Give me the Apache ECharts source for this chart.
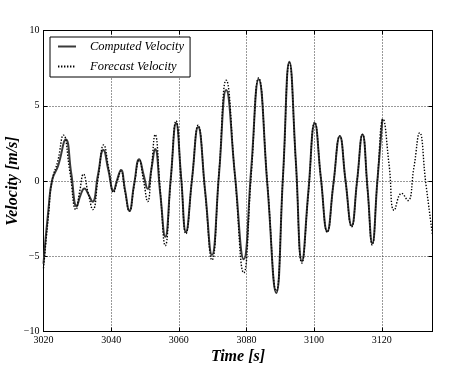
<!DOCTYPE html>
<html>
<head>
<meta charset="utf-8">
<script src="https://cdn.jsdelivr.net/npm/echarts@6/dist/echarts.min.js"></script>
<style>
  html, body { margin: 0; padding: 0; background: #fff; }
  #main { width: 467px; height: 366px; }
</style>
</head>
<body>
<div id="main"></div>
<script>
// time [s], velocity [m/s]
var computedT = [3020.0, 3021.5, 3022.6, 3024.3, 3026.6, 3028.2, 3029.8, 3031.0, 3032.1, 3033.3,
  3034.5, 3036.1, 3037.7, 3039.2, 3040.7, 3041.8, 3042.9, 3044.1, 3045.4, 3046.8,
  3048.3, 3049.6, 3050.8, 3051.9, 3053.0, 3054.5, 3056.0, 3057.6, 3059.2, 3060.7,
  3062.1, 3063.9, 3065.7, 3067.8, 3069.8, 3071.9, 3074.0, 3076.6, 3079.2, 3081.4,
  3083.6, 3086.2, 3088.8, 3090.8, 3092.7, 3094.6, 3096.4, 3098.3, 3100.2, 3102.0,
  3103.9, 3105.7, 3107.6, 3109.3, 3111.1, 3112.7, 3114.3, 3115.8, 3117.2, 3118.7, 3120.2];
var computedV = [-5.5, -1.8, 0.1, 1.0, 2.75, 0.5, -1.68, -0.9, -0.5, -0.9,
  -1.38, 0.4, 2.06, 0.7, -0.65, 0.1, 0.73, -0.6, -1.97, -0.2,
  1.44, 0.4, -0.52, 0.8, 2.12, -0.8, -3.7, 0.1, 3.83, 0.2,
  -3.38, 0.1, 3.58, -0.7, -4.92, 0.5, 6.05, 0.4, -5.2, 0.8,
  6.76, -0.3, -7.44, 0.3, 7.93, 1.3, -5.33, -0.7, 3.83, 0.2,
  -3.35, -0.2, 2.97, 0.0, -2.98, 0.0, 3.09, -0.5, -4.14, 0.0, 4.13];

var forecastT = [3020.0, 3021.5, 3022.5, 3024.2, 3025.9, 3027.8, 3029.6, 3030.7, 3031.8, 3033.2,
  3034.6, 3036.2, 3037.8, 3039.3, 3040.7, 3041.8, 3042.9, 3044.1, 3045.4, 3046.8,
  3048.3, 3049.6, 3050.8, 3051.9, 3053.0, 3054.5, 3056.0, 3057.6, 3059.2, 3060.7,
  3062.1, 3063.9, 3065.7, 3067.8, 3069.8, 3071.9, 3074.0, 3076.6, 3079.2, 3081.4,
  3083.6, 3086.2, 3088.8, 3090.8, 3092.7, 3094.6, 3096.4, 3098.3, 3100.2, 3102.0,
  3103.9, 3105.7, 3107.6, 3109.3, 3111.1, 3112.7, 3114.3, 3115.8, 3117.2, 3118.7,
  3120.4, 3122.2, 3123.7, 3125.9, 3127.7, 3129.5, 3131.2, 3133.0, 3135.0];
var forecastV = [-5.8, -2.2, 0.0, 1.3, 3.05, 0.6, -1.9, -0.7, 0.45, -0.8,
  -1.9, 0.3, 2.4, 0.8, -0.75, 0.0, 0.65, -0.7, -2.0, -0.3,
  1.4, 0.0, -1.37, 0.8, 3.08, -0.6, -4.3, 0.0, 4.0, 0.2,
  -3.5, 0.1, 3.7, -0.8, -5.25, 0.6, 6.7, 0.3, -6.1, 0.4,
  6.85, -0.2, -7.3, 0.3, 7.85, 1.2, -5.45, -0.8, 3.9, 0.2,
  -3.4, -0.2, 3.0, 0.0, -3.05, 0.0, 3.1, -0.6, -4.25, 0.0,
  4.1, 1.0, -1.95, -0.82, -1.3, 0.9, 3.2, -0.1, -3.6];

var seriesNames = ['Computed Velocity', 'Forecast Velocity'];
var xTicks = [3020, 3040, 3060, 3080, 3100, 3120];
var yTicks = [-10, -5, 0, 5, 10];

var pairs = function (ts, vs) {
  return ts.map(function (t, i) { return [t, vs[i]]; });
};

var chart = echarts.init(document.getElementById('main'));

var serif = 'Liberation Serif';
var minus = function (v) { return String(v).replace('-', '\u2212'); };

var baseX = {
  type: 'value', min: 3020, max: 3135, interval: 20,
  axisLine: { show: true, onZero: false, lineStyle: { color: '#000', width: 1 } },
  axisTick: { show: true, inside: true, length: 4, lineStyle: { color: '#000' } },
  splitLine: { show: false }
};
var baseY = {
  type: 'value', min: -10, max: 10, interval: 5,
  axisLine: { show: true, onZero: false, lineStyle: { color: '#000', width: 1 } },
  axisTick: { show: true, inside: true, length: 4, lineStyle: { color: '#000' } },
  splitLine: { show: false }
};

var option = {
  animation: false,
  backgroundColor: '#fff',
  grid: { left: 43.5, right: 34.5, top: 30.5, bottom: 34.5, containLabel: false, outerBoundsMode: 'none' },
  legend: {
    data: seriesNames,
    orient: 'vertical',
    left: 50, top: 37,
    padding: [3, 6, 4, 7],
    itemWidth: 18, itemHeight: 12, itemGap: 7,
    borderColor: '#000', borderWidth: 1, borderRadius: 0,
    backgroundColor: '#fff',
    itemStyle: { opacity: 0 },
    textStyle: { fontFamily: serif, fontStyle: 'italic', fontSize: 12.5, color: '#000', padding: [0, 0, 0, 9] }
  },
  xAxis: [
    Object.assign({}, baseX, {
      position: 'bottom',
      name: 'Time [s]', nameLocation: 'middle', nameGap: 17, nameMoveOverlap: false,
      nameTextStyle: { fontFamily: serif, fontStyle: 'italic', fontWeight: 'bold', fontSize: 16, color: '#000' },
      axisLabel: {
        margin: 4, fontFamily: serif, fontSize: 10, color: '#000',
        formatter: function (v) { return xTicks.indexOf(v) >= 0 ? String(v) : ''; }
      },
      splitLine: { show: true, lineStyle: { color: '#333', type: [1, 2], width: 1 } }
    }),
    Object.assign({}, baseX, { position: 'top', axisLabel: { show: false } })
  ],
  yAxis: [
    Object.assign({}, baseY, {
      position: 'left',
      name: 'Velocity [m/s]', nameLocation: 'middle', nameGap: 23, nameMoveOverlap: false,
      nameTextStyle: { fontFamily: serif, fontStyle: 'italic', fontWeight: 'bold', fontSize: 16, color: '#000' },
      axisLabel: {
        margin: 4, fontFamily: serif, fontSize: 10, color: '#000',
        formatter: function (v) { return yTicks.indexOf(v) >= 0 ? minus(v) : ''; }
      },
      splitLine: { show: true, lineStyle: { color: '#333', type: [1, 2], width: 1 } }
    }),
    Object.assign({}, baseY, { position: 'right', axisLabel: { show: false } })
  ],
  series: [
    {
      name: seriesNames[0], type: 'line', xAxisIndex: 0, yAxisIndex: 0,
      data: pairs(computedT, computedV),
      smooth: 0.5, symbol: 'none',
      lineStyle: { color: '#3a3a3a', width: 2, type: 'solid' },
      itemStyle: { color: '#3a3a3a' }
    },
    {
      name: seriesNames[1], type: 'line', xAxisIndex: 0, yAxisIndex: 0,
      data: pairs(forecastT, forecastV),
      smooth: 0.5, symbol: 'none',
      lineStyle: { color: '#000', width: 1.4, type: [1.4, 1.6] },
      itemStyle: { color: '#000' }
    }
  ]
};

chart.setOption(option);
</script>
</body>
</html>
